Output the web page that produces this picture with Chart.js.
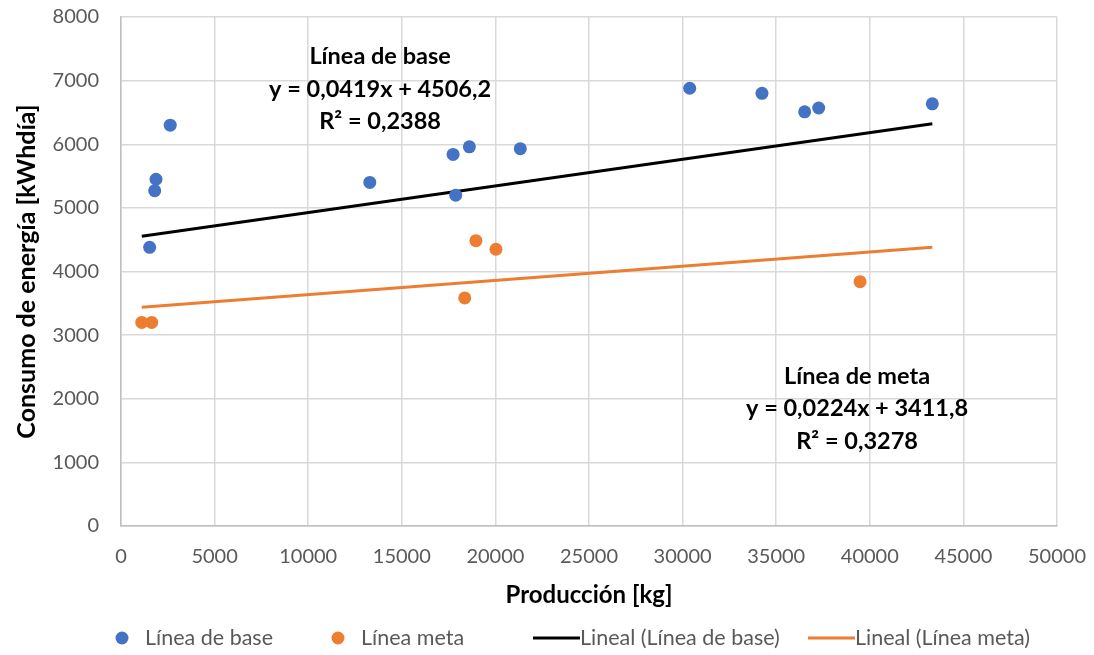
<!DOCTYPE html>
<html>
<head>
<meta charset="utf-8">
<script src="https://cdn.jsdelivr.net/npm/chart.js@4/dist/chart.umd.min.js"></script>
<style>
  html, body { margin: 0; padding: 0; background: #ffffff; }
  #wrap { width: 1094px; height: 655px; position: relative; }
</style>
</head>
<body>
<div id="wrap"><canvas id="grafico"></canvas></div>
<script>
// Producción [kg] y consumo [kWh/día] de la línea de base
const produccionBase = [1530, 1800, 1870, 2630, 13290, 17740, 17880, 18610, 21330, 30380, 34240, 36520, 37270, 43340];
const consumoBase    = [4380, 5270, 5450, 6300, 5400, 5840, 5200, 5960, 5930, 6880, 6800, 6510, 6570, 6635];

// Producción [kg] y consumo [kWh/día] de la línea meta
const produccionMeta = [1110, 1640, 18360, 18960, 20030, 39480];
const consumoMeta    = [3200, 3200, 3585, 4485, 4350, 3840];

// Ajustes lineales publicados en el gráfico
const pendienteBase = 0.0419, interceptoBase = 4506.2, r2Base = 0.2388;
const pendienteMeta = 0.0224, interceptoMeta = 3411.8, r2Meta = 0.3278;

// Marcas de los ejes
const ticksX = [0, 5000, 10000, 15000, 20000, 25000, 30000, 35000, 40000, 45000, 50000];
const ticksY = [0, 1000, 2000, 3000, 4000, 5000, 6000, 7000, 8000];

const AZUL = '#4472C4';
const NARANJA = '#ED7D31';
const GRIS_TEXTO = '#595959';
const FUENTE = 'Lato, "Open Sans", sans-serif';

// Rango común de las rectas de tendencia
const todasX = produccionBase.concat(produccionMeta);
const xMin = Math.min(...todasX);
const xMax = Math.max(...todasX);
const recta = (m, b) => [xMin, xMax].map(x => ({ x: x, y: m * x + b }));

const coma = (v, d) => v.toFixed(d).replace('.', ',');
const ecuacion = (m, b) => 'y = ' + coma(m, 4) + 'x + ' + coma(b, 1);

// Etiquetas de las rectas de tendencia (centro en coordenadas de datos)
const rotulos = [
  { x: 13840, y: 7375, lineas: ['Línea de base', ecuacion(pendienteBase, interceptoBase), 'R² = ' + coma(r2Base, 4)] },
  { x: 39320, y: 2358, lineas: ['Línea de meta', ecuacion(pendienteMeta, interceptoMeta), 'R² = ' + coma(r2Meta, 4)] }
];

const pluginRotulos = {
  id: 'rotulos',
  afterDatasetsDraw(chart) {
    const { ctx, scales } = chart;
    ctx.save();
    ctx.fillStyle = '#000000';
    ctx.font = 'bold 23.5px ' + FUENTE;
    ctx.textAlign = 'center';
    ctx.textBaseline = 'middle';
    rotulos.forEach(r => {
      const cx = scales.x.getPixelForValue(r.x);
      const cy = scales.y.getPixelForValue(r.y);
      r.lineas.forEach((t, i) => ctx.fillText(t, cx, cy + i * 32.5));
    });
    ctx.restore();
  }
};

// Leyenda inferior: puntos para las series, trazos para las tendencias
// (desplazamiento horizontal de cada entrada respecto a la primera)
const entradasLeyenda = [
  { texto: 'Línea de base', tipo: 'punto', color: AZUL, dx: 0 },
  { texto: 'Línea meta', tipo: 'punto', color: NARANJA, dx: 216 },
  { texto: 'Lineal (Línea de base)', tipo: 'trazo', color: '#000000', dx: 417 },
  { texto: 'Lineal (Línea meta)', tipo: 'trazo', color: NARANJA, dx: 692 }
];

const pluginLeyenda = {
  id: 'leyendaInferior',
  afterDraw(chart) {
    const { ctx, chartArea } = chart;
    ctx.save();
    ctx.font = '21.5px ' + FUENTE;
    ctx.textBaseline = 'middle';
    ctx.textAlign = 'left';
    const y = 638;
    const x0 = chartArea.left - 5;
    entradasLeyenda.forEach(e => {
      const x = x0 + e.dx;
      if (e.tipo === 'punto') {
        ctx.fillStyle = e.color;
        ctx.beginPath();
        ctx.arc(x + 6, y, 6.5, 0, Math.PI * 2);
        ctx.fill();
        ctx.fillStyle = GRIS_TEXTO;
        ctx.fillText(e.texto, x + 29, y);
      } else {
        ctx.strokeStyle = e.color;
        ctx.lineWidth = 3;
        ctx.beginPath();
        ctx.moveTo(x, y);
        ctx.lineTo(x + 47, y);
        ctx.stroke();
        ctx.fillStyle = GRIS_TEXTO;
        ctx.fillText(e.texto, x + 47, y);
      }
    });
    ctx.restore();
  }
};

const puntos = (xs, ys) => xs.map((x, i) => ({ x: x, y: ys[i] }));

// Sin margen extra por las etiquetas extremas: el área de trazado la fija layout.padding
const sinMargenEtiquetas = s => { s.paddingTop = 0; s.paddingBottom = 0; s.paddingLeft = 0; s.paddingRight = 0; };

new Chart(document.getElementById('grafico'), {
  type: 'scatter',
  data: {
    datasets: [
      { label: 'Línea de base', data: puntos(produccionBase, consumoBase), backgroundColor: AZUL, borderColor: AZUL, pointRadius: 6.5, pointHoverRadius: 6.5, borderWidth: 0, order: 1 },
      { label: 'Línea meta', data: puntos(produccionMeta, consumoMeta), backgroundColor: NARANJA, borderColor: NARANJA, pointRadius: 6.5, pointHoverRadius: 6.5, borderWidth: 0, order: 1 },
      { label: 'Lineal (Línea de base)', type: 'line', data: recta(pendienteBase, interceptoBase), borderColor: '#000000', borderWidth: 3, pointRadius: 0, showLine: true, fill: false, order: 2 },
      { label: 'Lineal (Línea meta)', type: 'line', data: recta(pendienteMeta, interceptoMeta), borderColor: NARANJA, borderWidth: 3, pointRadius: 0, showLine: true, fill: false, order: 2 }
    ]
  },
  options: {
    responsive: true,
    maintainAspectRatio: false,
    animation: false,
    events: [],
    layout: { padding: { left: 0, right: 37, top: 17, bottom: 45 } },
    plugins: {
      legend: { display: false },
      tooltip: { enabled: false }
    },
    scales: {
      x: {
        type: 'linear',
        min: 0, max: 50000,
        afterBuildTicks: s => { s.ticks = ticksX.map(v => ({ value: v })); },
        afterFit: s => { s.height = 84; sinMargenEtiquetas(s); },
        grid: { color: '#D9D9D9', lineWidth: 1.5, drawTicks: false },
        border: { color: '#BFBFBF', width: 1.5 },
        ticks: { color: GRIS_TEXTO, font: { family: FUENTE, size: 20 }, padding: 19, maxRotation: 0, callback: v => String(v) },
        title: { display: true, text: 'Producción [kg]', color: '#000000', font: { family: FUENTE, size: 24, weight: 'bold' }, padding: 0 }
      },
      y: {
        type: 'linear',
        min: 0, max: 8000,
        afterBuildTicks: s => { s.ticks = ticksY.map(v => ({ value: v })); },
        afterFit: s => { s.width = 121; sinMargenEtiquetas(s); },
        grid: { color: '#D9D9D9', lineWidth: 1.5, drawTicks: false },
        border: { color: '#BFBFBF', width: 1.5 },
        ticks: { color: GRIS_TEXTO, font: { family: FUENTE, size: 20 }, padding: 22, callback: v => String(v) },
        title: { display: true, text: 'Consumo de energía [kWhdía]', color: '#000000', font: { family: FUENTE, size: 25, weight: 'bold' }, padding: { top: 12 } }
      }
    }
  },
  plugins: [pluginRotulos, pluginLeyenda]
});
</script>
</body>
</html>
